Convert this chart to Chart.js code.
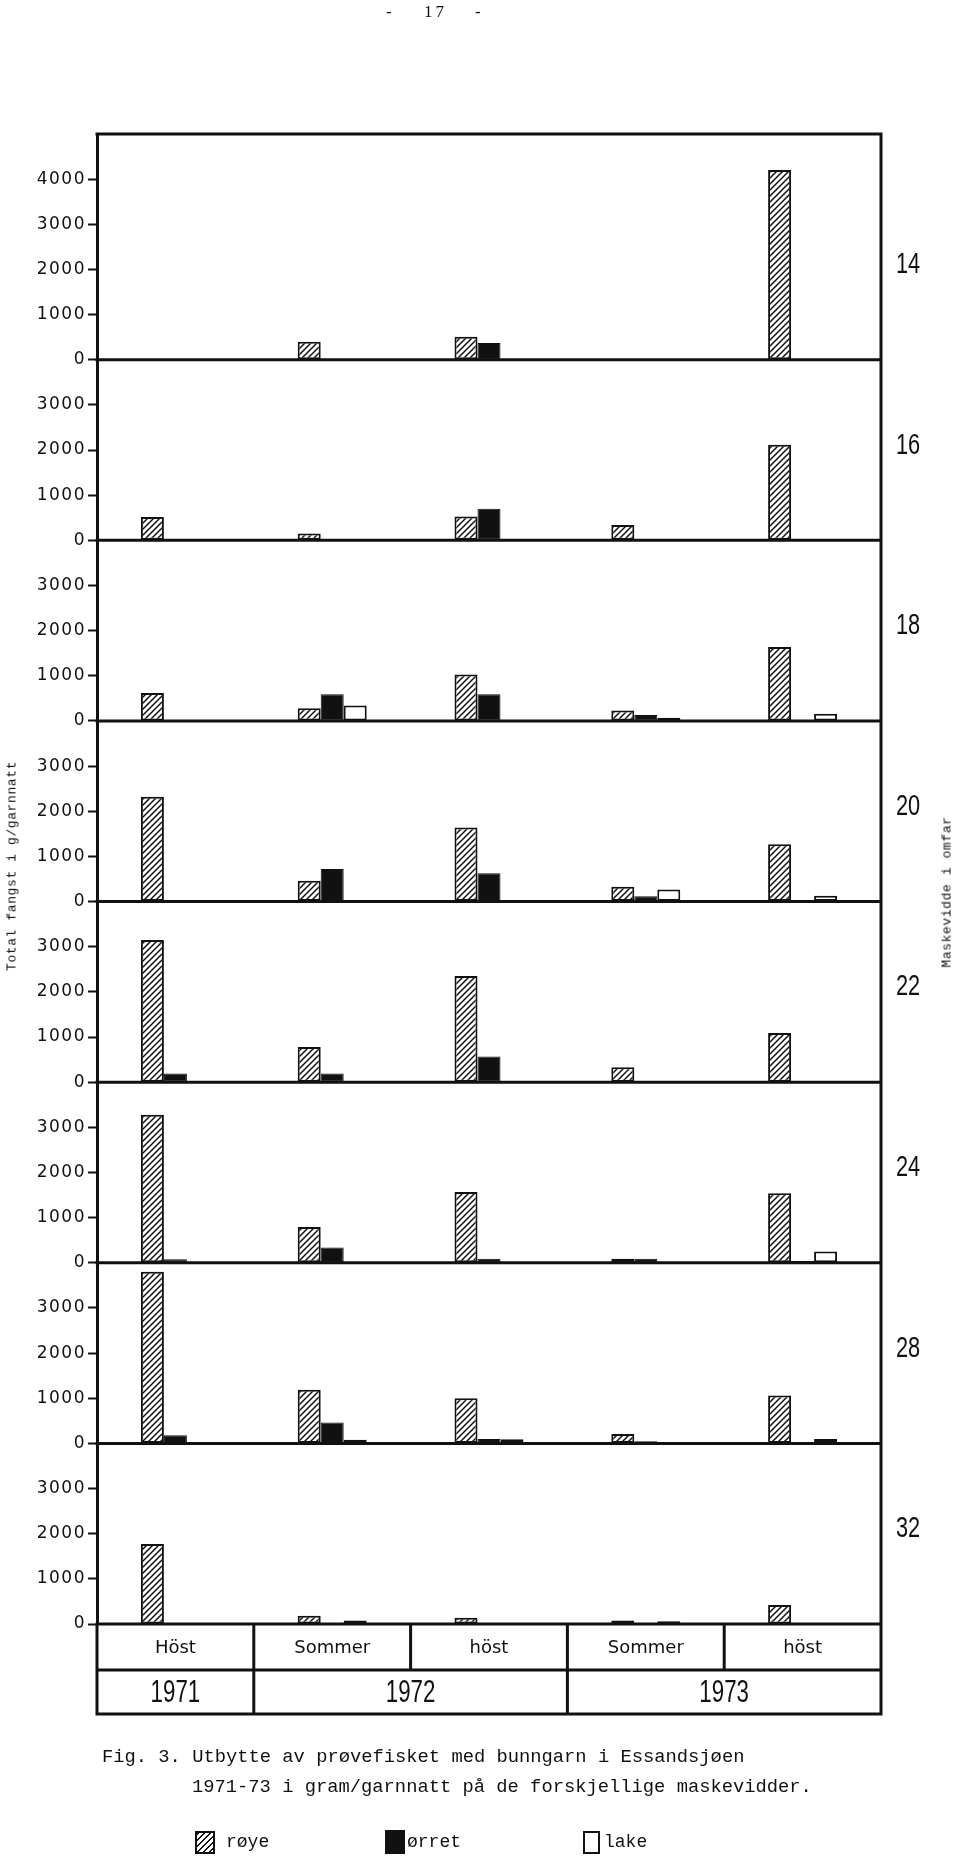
<!DOCTYPE html>
<html>
<head>
<meta charset="utf-8">
<script src="https://cdn.jsdelivr.net/npm/chart.js@4.4.1/dist/chart.umd.min.js"></script>
<style>
  body { margin: 0; background: #fff; }
  #page { position: relative; width: 960px; height: 1858px; overflow: hidden; background: #fff; }
  #chart { position: absolute; left: 0; top: 0; }
  .txt { position: absolute; white-space: nowrap; color: #111; }
  .mono { font-family: 'Liberation Mono', 'DejaVu Sans Mono', monospace; }
  .vt { transform: translate(-50%, -50%) rotate(-90deg); font-family: 'Liberation Mono', monospace; font-size: 13px; letter-spacing: 0.6px; }
  .sw { position: absolute; box-sizing: border-box; border: 2px solid #111; }
</style>
</head>
<body>
<div id="page">
  <canvas id="chart" width="960" height="1858"></canvas>

  <div class="txt" style="left:386px; top:2px; font-family:'Liberation Serif',serif; font-size:17px;">-</div>
  <div class="txt" style="left:424px; top:2px; font-family:'Liberation Serif',serif; font-size:17px; letter-spacing:3px;">17</div>
  <div class="txt" style="left:475px; top:2px; font-family:'Liberation Serif',serif; font-size:17px;">-</div>

  <div class="txt vt" style="left:12px; top:866px;">Total fangst i g/garnnatt</div>
  <div class="txt vt" style="left:947px; top:892px;">Maskevidde i omfar</div>

  <div class="txt mono" style="left:102px; top:1746px; font-size:18.8px;">Fig. 3. Utbytte  av prøvefisket med bunngarn i Essandsjøen</div>
  <div class="txt mono" style="left:192px; top:1776px; font-size:18.8px;">1971-73 i gram/garnnatt på de forskjellige maskevidder.</div>

  <div class="sw" style="left:195px; top:1831px; width:20px; height:23px; background:repeating-linear-gradient(-45deg,#fff 0 2px,#111 2px 3.5px,#fff 3.5px 4.2px);"></div>
  <div class="txt mono" style="left:226px; top:1832px; font-size:18px;">røye</div>
  <div class="sw" style="left:385px; top:1830px; width:20px; height:24px; background:#111;"></div>
  <div class="txt mono" style="left:407px; top:1832px; font-size:18px;">ørret</div>
  <div class="sw" style="left:583px; top:1831px; width:17px; height:23px; background:#fff;"></div>
  <div class="txt mono" style="left:604px; top:1832px; font-size:18px;">lake</div>
</div>

<script>
// kategorier (sesong / år) og maskevidder
const seasons = ['Höst', 'Sommer', 'höst', 'Sommer', 'höst'];
const years = ['1971', '1972', '1972', '1973', '1973'];
const meshSizes = [14, 16, 18, 20, 22, 24, 28, 32];
const axisMax = [5000, 4000, 4000, 4000, 4000, 4000, 4000, 4000];
const tickMax = [4000, 3000, 3000, 3000, 3000, 3000, 3000, 3000];

// fangst i g/garnnatt, en rad per maskevidde (14 ... 32)
const roye = [
    [0, 400, 510, 0, 4200],
    [520, 150, 530, 340, 2120],
    [620, 280, 1030, 230, 1640],
    [2320, 460, 1640, 330, 1270],
    [3150, 780, 2350, 330, 1090],
    [3280, 790, 1570, 90, 1540],
    [3800, 1190, 1000, 210, 1060],
    [1770, 180, 140, 80, 420]
];
const orret = [
    [0, 0, 370, 0, 0],
    [0, 0, 700, 0, 0],
    [0, 590, 590, 130, 0],
    [0, 720, 630, 120, 0],
    [190, 190, 570, 0, 0],
    [80, 340, 90, 90, 40],
    [180, 460, 100, 50, 0],
    [0, 0, 0, 0, 0]
];
const lake = [
    [0, 0, 0, 0, 0],
    [0, 0, 0, 0, 0],
    [0, 340, 0, 70, 160],
    [0, 0, 0, 270, 130],
    [0, 0, 0, 0, 0],
    [0, 0, 0, 0, 250],
    [0, 80, 90, 30, 100],
    [0, 80, 0, 60, 0]
];

const INK = '#111';

// skravur for røye
function hatchPattern() {
    const c = document.createElement('canvas');
    c.width = 6; c.height = 6;
    const g = c.getContext('2d');
    g.fillStyle = '#fff';
    g.fillRect(0, 0, 6, 6);
    g.strokeStyle = INK;
    g.lineWidth = 1.5;
    g.beginPath();
    g.moveTo(0, 6); g.lineTo(6, 0);
    g.moveTo(-1, 1); g.lineTo(1, -1);
    g.moveTo(5, 7); g.lineTo(7, 5);
    g.stroke();
    return g.createPattern(c, 'repeat');
}
const hatch = hatchPattern();

const datasets = [];
const scales = { x: { display: false, offset: true } };

meshSizes.forEach((m, i) => {
    const yId = 'y' + m;
    datasets.push({ label: 'røye', stack: 'roye', yAxisID: yId, data: roye[i],
        backgroundColor: hatch, borderColor: INK, borderWidth: 2, borderSkipped: false });
    datasets.push({ label: 'ørret', stack: 'orret', yAxisID: yId, data: orret[i],
        backgroundColor: INK, borderColor: INK, borderWidth: 1, borderSkipped: false });
    datasets.push({ label: 'lake', stack: 'lake', yAxisID: yId, data: lake[i],
        backgroundColor: '#fff', borderColor: INK, borderWidth: 2, borderSkipped: false });

    scales[yId] = {
        type: 'linear',
        position: 'left',
        stack: 'panels',
        stackWeight: axisMax[i] / 1000,
        weight: meshSizes.length - i,
        min: 0,
        max: axisMax[i],
        ticks: {
            stepSize: 1000,
            autoSkip: false,
            color: INK,
            padding: 2,
            font: { family: 'DejaVu Sans', size: 17 },
            callback: v => v <= tickMax[i] ? v : ''
        },
        grid: {
            drawOnChartArea: false,
            tickLength: 9,
            tickWidth: 2,
            tickColor: c => c.tick && c.tick.value > tickMax[i] ? 'rgba(0,0,0,0)' : INK
        },
        border: { display: true, color: INK, width: 3 },
        afterFit: s => { s.width = 97; }
    };
});

// litt sperret skrift på akseverdiene
const spacingPlugin = {
    id: 'spacing',
    beforeDraw(chart) { chart.ctx.letterSpacing = '1.5px'; },
    afterDraw(chart) { chart.ctx.letterSpacing = '0px'; }
};

// ramme, nullinjer, tabell og maskevidde-tall
const framePlugin = {
    id: 'frame',
    afterDatasetsDraw(chart) {
        const ctx = chart.ctx;
        const area = chart.chartArea;
        const xs = chart.scales.x;
        const row1 = area.bottom + 46;
        const row2 = area.bottom + 90;
        const half = (xs.getPixelForValue(1) - xs.getPixelForValue(0)) / 2;

        ctx.save();
        ctx.letterSpacing = '0px';
        ctx.strokeStyle = INK;
        ctx.lineWidth = 3;
        ctx.lineCap = 'square';

        ctx.beginPath();
        ctx.moveTo(area.left, area.top); ctx.lineTo(area.right, area.top);
        ctx.moveTo(area.right, area.top); ctx.lineTo(area.right, row2);
        ctx.moveTo(area.left, area.bottom); ctx.lineTo(area.left, row2);
        meshSizes.forEach(m => {
            const y0 = chart.scales['y' + m].getPixelForValue(0);
            ctx.moveTo(area.left, y0); ctx.lineTo(area.right, y0);
        });
        ctx.moveTo(area.left, row1); ctx.lineTo(area.right, row1);
        ctx.moveTo(area.left, row2); ctx.lineTo(area.right, row2);
        seasons.forEach((s, i) => {
            if (i === 0) return;
            const xb = xs.getPixelForValue(i) - half;
            ctx.moveTo(xb, area.bottom); ctx.lineTo(xb, row1);
            if (years[i] !== years[i - 1]) {
                ctx.moveTo(xb, row1); ctx.lineTo(xb, row2);
            }
        });
        ctx.stroke();

        ctx.fillStyle = INK;
        ctx.textAlign = 'center';
        ctx.textBaseline = 'middle';

        ctx.font = '18px "DejaVu Sans"';
        seasons.forEach((s, i) => {
            ctx.fillText(s, xs.getPixelForValue(i), (area.bottom + row1) / 2 + 1);
        });

        function narrow(text, x, y, size, k) {
            ctx.save();
            ctx.translate(x, y);
            ctx.scale(k, 1);
            ctx.font = size + 'px "Liberation Sans"';
            ctx.fillText(text, 0, 0);
            ctx.restore();
        }

        let start = 0;
        years.forEach((yr, i) => {
            if (i === years.length - 1 || years[i + 1] !== yr) {
                const xc = (xs.getPixelForValue(start) + xs.getPixelForValue(i)) / 2;
                narrow(yr, xc, (row1 + row2) / 2 + 1, 31, 0.72);
                start = i + 1;
            }
        });

        meshSizes.forEach(m => {
            const y = chart.scales['y' + m].getPixelForValue(2100);
            narrow(String(m), area.right + 27, y, 29, 0.75);
        });
        ctx.restore();
    }
};

new Chart(document.getElementById('chart'), {
    type: 'bar',
    data: { labels: seasons, datasets: datasets },
    options: {
        responsive: false,
        animation: false,
        categoryPercentage: 0.44,
        barPercentage: 1.0,
        layout: { padding: { top: 134, right: 79, bottom: 234, left: 0 } },
        plugins: { legend: { display: false }, tooltip: { enabled: false } },
        scales: scales
    },
    plugins: [spacingPlugin, framePlugin]
});
</script>
</body>
</html>
